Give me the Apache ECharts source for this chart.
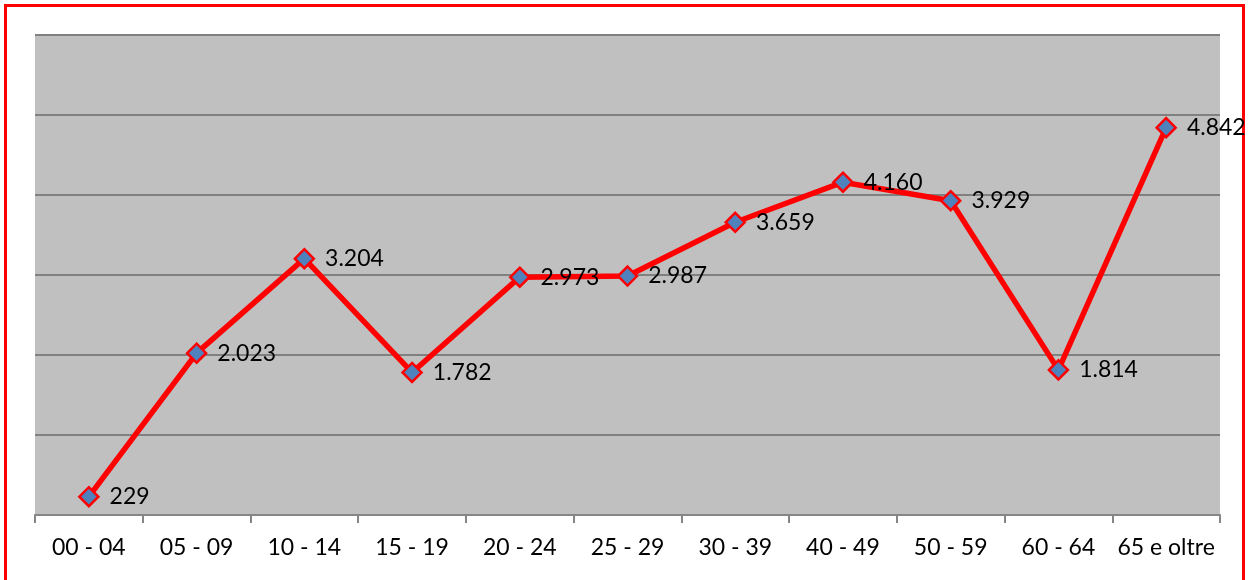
<!DOCTYPE html>
<html><head><meta charset="utf-8">
<script src="https://cdn.jsdelivr.net/npm/echarts@6/dist/echarts.min.js"></script>
<style>
html,body{margin:0;padding:0;background:#fff;overflow:hidden}
#frame{position:absolute;left:4px;top:4px;width:1241px;height:600px;border:3px solid #ff0000;box-sizing:border-box}
#c{position:absolute;left:0;top:0;width:1250px;height:580px}
</style></head>
<body>
<div id="frame"></div>
<div id="c"></div>
<script>
const categories = ['00 - 04','05 - 09','10 - 14','15 - 19','20 - 24','25 - 29','30 - 39','40 - 49','50 - 59','60 - 64','65 e oltre'];
const values = [229, 2023, 3204, 1782, 2973, 2987, 3659, 4160, 3929, 1814, 4842];

function fmt(v){ return String(v).replace(/\B(?=(\d{3})+(?!\d))/g, '.'); }

const chart = echarts.init(document.getElementById('c'), null, {renderer:'canvas'});
chart.setOption({
  animation:false,
  backgroundColor:'transparent',
  grid:{left:35, right:30, top:35, bottom:65, show:true, backgroundColor:'#c0c0c0', borderWidth:0},
  xAxis:{
    type:'category', data:categories, boundaryGap:true,
    axisLine:{show:true, lineStyle:{color:'#868686', width:2}},
    axisTick:{show:true, alignWithLabel:false, length:8, lineStyle:{color:'#868686', width:2}},
    axisLabel:{color:'#000', fontFamily:'Lato', fontSize:23, margin:21, interval:0}
  },
  yAxis:{
    type:'value', min:0, max:6000, interval:1000,
    axisLine:{show:false}, axisTick:{show:false}, axisLabel:{show:false},
    splitLine:{show:true, lineStyle:{color:'#808080', width:2}}
  },
  series:[{
    type:'line', data:values,
    lineStyle:{color:'#ff0000', width:5.5},
    symbol:'diamond', symbolSize:19,
    itemStyle:{color:'#4f81bd', borderColor:'#ff0000', borderWidth:2.5},
    label:{show:true, position:'right', distance:10, color:'#000', fontFamily:'Lato', fontSize:23,
      formatter:p=>fmt(p.value)}
  }]
});
</script>
</body></html>
